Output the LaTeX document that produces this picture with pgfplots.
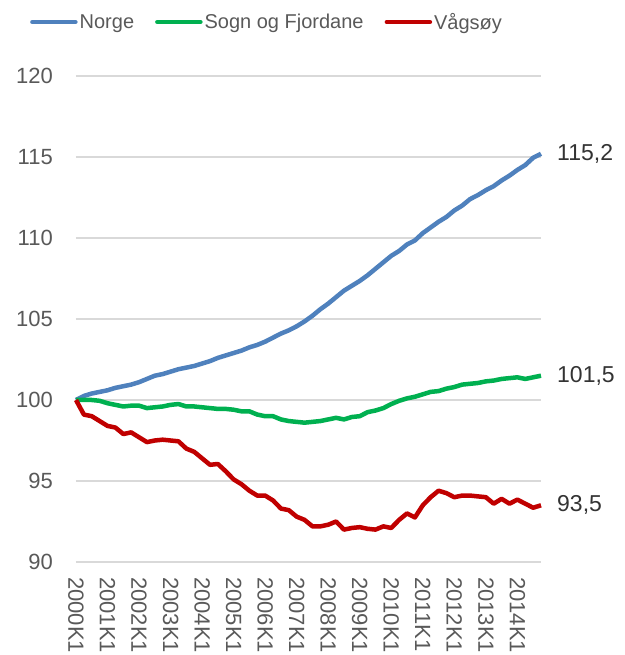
\documentclass[border=0pt]{standalone}
\usepackage{pgfplots}
\usepackage{pgfplotstable}
\pgfplotsset{compat=1.18}
\usepackage{fontspec}
\setmainfont{Liberation Sans}
\definecolor{cnorge}{RGB}{79,129,189}
\definecolor{csogn}{RGB}{0,176,80}
\definecolor{cvag}{RGB}{192,0,0}
\definecolor{ctxt}{RGB}{89,89,89}
\definecolor{cgrid}{RGB}{217,217,217}
\pgfplotstableread{
i norge sogn vag
0 100.0 100.0 100.0
1 100.25 100.0 99.1
2 100.4 100.0 99.0
3 100.5 99.95 98.7
4 100.6 99.8 98.4
5 100.75 99.7 98.3
6 100.85 99.6 97.9
7 100.95 99.65 98.0
8 101.1 99.65 97.7
9 101.3 99.5 97.4
10 101.5 99.55 97.5
11 101.6 99.6 97.55
12 101.75 99.7 97.5
13 101.9 99.75 97.45
14 102.0 99.6 97.0
15 102.1 99.6 96.8
16 102.25 99.55 96.4
17 102.4 99.5 96.0
18 102.6 99.45 96.05
19 102.75 99.45 95.6
20 102.9 99.4 95.1
21 103.05 99.3 94.8
22 103.25 99.3 94.4
23 103.4 99.1 94.1
24 103.6 99.0 94.1
25 103.85 99.0 93.8
26 104.1 98.8 93.3
27 104.3 98.7 93.2
28 104.55 98.65 92.8
29 104.85 98.6 92.6
30 105.2 98.65 92.2
31 105.6 98.7 92.2
32 105.95 98.8 92.3
33 106.35 98.9 92.5
34 106.75 98.8 92.0
35 107.05 98.95 92.1
36 107.35 99.0 92.15
37 107.7 99.25 92.05
38 108.1 99.35 92.0
39 108.5 99.5 92.2
40 108.9 99.75 92.1
41 109.2 99.95 92.6
42 109.6 100.1 93.0
43 109.85 100.2 92.75
44 110.3 100.35 93.5
45 110.65 100.5 94.0
46 111.0 100.55 94.4
47 111.3 100.7 94.25
48 111.7 100.8 94.0
49 112.0 100.95 94.1
50 112.4 101.0 94.1
51 112.65 101.05 94.05
52 112.95 101.15 94.0
53 113.2 101.2 93.6
54 113.55 101.3 93.9
55 113.85 101.35 93.6
56 114.2 101.4 93.85
57 114.5 101.3 93.6
58 114.95 101.4 93.35
59 115.2 101.5 93.5
}\datatable
\begin{document}
\begin{tikzpicture}
\begin{axis}[
  scale only axis,
  width=465pt, height=486pt,
  at={(0pt,0pt)}, anchor=south west,
  xmin=0, xmax=59, ymin=90, ymax=120,
  ytick={90,95,...,120},
  xtick={0,4,...,56},
  xticklabels={2000K1,2001K1,2002K1,2003K1,2004K1,2005K1,2006K1,2007K1,2008K1,2009K1,2010K1,2011K1,2012K1,2013K1,2014K1},
  axis line style={draw=none},
  major tick length=0pt,
  ymajorgrids,
  grid style={cgrid, line width=1.5pt},
  ticklabel style={text=ctxt, font=\fontsize{22}{26}\selectfont, inner sep=0pt},
  /pgf/number format/assume math mode=true,
  yticklabel style={anchor=east, xshift=-23pt},
  xticklabel style={rotate=-90, anchor=west},
  xticklabel shift=15pt,
  clip=false,
  legend columns=3,
  legend style={draw=none, fill=none, at={(-0.099,1.111)}, anchor=west, inner sep=0pt,
     font=\fontsize{20}{24}\selectfont, text=ctxt,
     nodes={inner sep=2pt},
     /tikz/every even column/.append style={column sep=19pt}},
  legend image code/.code={\draw[#1, line cap=round] (0pt,0pt) -- (43pt,0pt);},
]
\addplot[cnorge, line width=4.5pt, line join=round] table[x=i, y=norge] {\datatable};
\addlegendentry{Norge}
\addplot[csogn, line width=4.5pt, line join=round] table[x=i, y=sogn] {\datatable};
\addlegendentry{Sogn og Fjordane}
\addplot[cvag, line width=4.5pt, line join=round] table[x=i, y=vag] {\datatable};
\addlegendentry{Vågsøy}
\node[anchor=west, inner sep=0pt, text=black!80, font=\fontsize{23}{27}\selectfont] at (axis cs:59,115.2) [xshift=16pt] {115,2};
\node[anchor=west, inner sep=0pt, text=black!80, font=\fontsize{23}{27}\selectfont] at (axis cs:59,101.5) [xshift=16pt] {101,5};
\node[anchor=west, inner sep=0pt, text=black!80, font=\fontsize{23}{27}\selectfont] at (axis cs:59,93.5) [xshift=16pt] {93,5};
\end{axis}
\pgfresetboundingbox
\path[use as bounding box] (-76pt,-93pt) rectangle (548pt,562pt);
\end{tikzpicture}
\end{document}
